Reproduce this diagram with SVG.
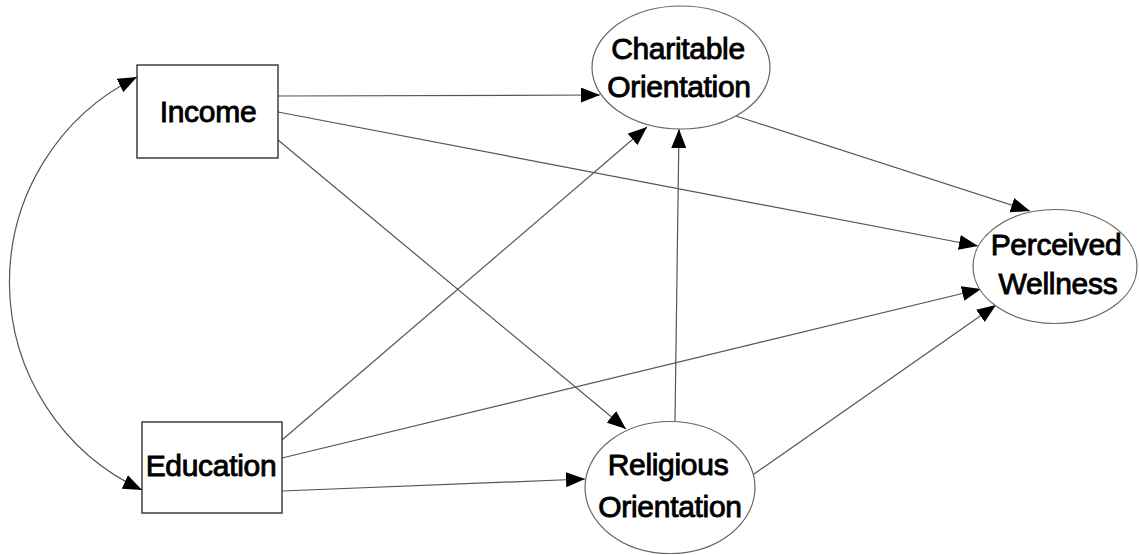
<svg xmlns="http://www.w3.org/2000/svg" width="1139" height="555" viewBox="0 0 1139 555">
  <style>
    .box { fill: #ffffff; stroke: #222222; stroke-width: 1.3; }
    .ell { fill: #ffffff; stroke: #666666; stroke-width: 1.2; }
    .lbl { font-family: "Liberation Sans", Arial, sans-serif; font-size: 30px; fill: #000000; stroke: #000000; stroke-width: 0.9; text-anchor: middle; letter-spacing: -0.3px; }
    .edge { fill: none; stroke: #555555; stroke-width: 1.2; }
  </style>
  <defs>
    <marker id="arr" markerUnits="userSpaceOnUse" markerWidth="19" markerHeight="15" refX="19" refY="7.5" orient="auto-start-reverse" viewBox="0 0 19 15">
      <path d="M0,0 L19,7.5 L0,15 z" fill="#000000"/>
    </marker>
  </defs>
  <rect width="1139" height="555" fill="#ffffff"/>
  <g id="connectors">
    <path class="edge" d="M137,77 A229,229 0 0 0 142,490" marker-start="url(#arr)" marker-end="url(#arr)"/>
    <line class="edge" x1="278" y1="96" x2="600" y2="95" marker-end="url(#arr)"/>
    <line class="edge" x1="278" y1="112" x2="978" y2="246" marker-end="url(#arr)"/>
    <line class="edge" x1="278" y1="140" x2="626" y2="429" marker-end="url(#arr)"/>
    <line class="edge" x1="282" y1="440" x2="647" y2="127" marker-end="url(#arr)"/>
    <line class="edge" x1="282" y1="458" x2="981" y2="289" marker-end="url(#arr)"/>
    <line class="edge" x1="282" y1="491" x2="585" y2="479" marker-end="url(#arr)"/>
    <line class="edge" x1="675" y1="421" x2="679" y2="129" marker-end="url(#arr)"/>
    <line class="edge" x1="754" y1="474" x2="996" y2="305" marker-end="url(#arr)"/>
    <line class="edge" x1="736" y1="116" x2="1030" y2="211" marker-end="url(#arr)"/>
  </g>
  <g id="income">
    <rect class="box" x="137" y="65" width="141" height="93"/>
    <text class="lbl" x="208" y="122">Income</text>
  </g>
  <g id="education">
    <rect class="box" x="142" y="422" width="140" height="91"/>
    <text class="lbl" x="211" y="476">Education</text>
  </g>
  <g id="charitable">
    <ellipse class="ell" cx="681" cy="67.5" rx="89" ry="61.5"/>
    <text class="lbl" x="678" y="59">Charitable</text>
    <text class="lbl" x="679" y="97">Orientation</text>
  </g>
  <g id="religious">
    <ellipse class="ell" cx="670" cy="487.5" rx="85" ry="66"/>
    <text class="lbl" x="668" y="475">Religious</text>
    <text class="lbl" x="670" y="517">Orientation</text>
  </g>
  <g id="wellness">
    <ellipse class="ell" cx="1055" cy="266.5" rx="82" ry="57"/>
    <text class="lbl" x="1056" y="255">Perceived</text>
    <text class="lbl" x="1058" y="294">Wellness</text>
  </g>
</svg>
